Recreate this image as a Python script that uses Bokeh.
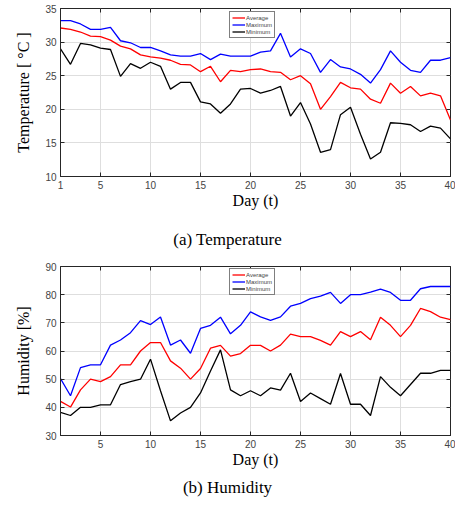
from bokeh.plotting import figure
from bokeh.layouts import column
from bokeh.models import (Range1d, FixedTicker, LinearAxis, Legend, LegendItem, Div,
                          CustomJSTickFormatter)
from bokeh.embed import file_html
from bokeh.resources import INLINE

days = list(range(1, 41))

temp_avg = [32.1, 31.9, 31.5, 30.9, 30.8, 30.3, 29.4, 29.0, 28.1, 27.8,
            27.6, 27.3, 26.7, 26.6, 25.6, 26.4, 24.1, 25.8, 25.6, 25.9,
            26.0, 25.6, 25.5, 24.4, 25.0, 23.8, 20.0, 21.9, 24.0, 23.2,
            23.0, 21.5, 20.9, 23.9, 22.4, 23.4, 22.0, 22.4, 22.0, 18.4]
temp_max = [33.2, 33.2, 32.7, 31.9, 31.9, 32.2, 30.2, 29.9, 29.2, 29.2,
            28.7, 28.1, 27.9, 27.9, 28.3, 27.4, 28.2, 27.9, 27.9, 27.9,
            28.5, 28.7, 31.3, 27.8, 29.0, 28.3, 25.5, 27.4, 26.3, 26.0,
            25.2, 23.9, 25.9, 28.7, 27.0, 25.8, 25.5, 27.3, 27.3, 27.7]
temp_min = [29.0, 26.7, 29.8, 29.6, 29.1, 28.9, 24.9, 26.8, 26.1, 27.0,
            26.4, 23.0, 24.0, 24.0, 21.1, 20.8, 19.4, 20.8, 23.0, 23.1,
            22.4, 22.8, 23.4, 19.0, 21.0, 17.8, 13.6, 14.0, 19.2, 20.3,
            16.3, 12.6, 13.6, 18.0, 17.9, 17.7, 16.7, 17.5, 17.2, 15.6]

hum_avg = [42.1, 40.1, 46.2, 50.0, 49.1, 50.9, 55.1, 55.1, 60.0, 63.0,
           63.0, 56.5, 53.9, 50.0, 53.8, 61.0, 62.0, 58.2, 59.1, 62.0,
           62.0, 60.0, 62.1, 66.0, 65.1, 65.1, 63.8, 62.1, 66.9, 65.1,
           66.9, 64.0, 72.0, 69.1, 65.1, 69.1, 75.1, 74.0, 72.0, 71.1]
hum_max = [50.2, 44.1, 54.1, 55.1, 55.1, 62.1, 63.9, 66.5, 70.8, 69.4,
           72.1, 62.1, 63.9, 59.2, 68.0, 69.1, 72.0, 66.1, 69.1, 73.9,
           72.1, 70.9, 72.1, 75.9, 76.9, 78.6, 79.5, 80.8, 76.9, 80.0,
           80.0, 80.9, 82.0, 80.8, 78.0, 78.0, 82.1, 82.9, 82.9, 82.9]
hum_min = [38.2, 37.1, 40.0, 40.0, 40.9, 40.9, 48.1, 49.1, 50.0, 57.1,
           45.9, 35.2, 38.0, 40.0, 45.1, 52.9, 60.4, 46.2, 44.1, 45.9,
           44.1, 46.9, 46.1, 52.1, 42.1, 45.1, 43.1, 41.1, 52.0, 41.1,
           41.1, 37.1, 50.9, 47.1, 44.1, 48.1, 52.1, 52.1, 53.1, 53.1]

temp_xticks = [1, 5, 10, 15, 20, 25, 30, 35, 40]
hum_xticks = [5, 10, 15, 20, 25, 30, 35, 40]
temp_yticks = [10, 15, 20, 25, 30, 35]
hum_yticks = [30, 40, 50, 60, 70, 80, 90]

series_names = ["Average", "Maximum", "Minimum"]
series_colors = ["#ff0000", "#0000ff", "#000000"]

TICK_FONT = "Liberation Sans"
SERIF = "Liberation Serif"
AXIS_COL = "#262626"
W = 455


def style_axis(ax, ticks, show_labels=True):
    ax.ticker = FixedTicker(ticks=ticks)
    ax.major_tick_in = 4
    ax.major_tick_out = 0
    ax.minor_tick_line_color = None
    ax.axis_line_color = AXIS_COL
    ax.major_tick_line_color = AXIS_COL
    ax.major_label_text_font = TICK_FONT
    ax.major_label_text_color = "#444444"
    ax.major_label_text_font_size = "10px"
    if show_labels:
        ax.major_label_standoff = 4
    else:
        ax.formatter = CustomJSTickFormatter(code="return ''")
        ax.major_label_standoff = 0


def make_fig(ys, xticks, yticks, yr, ylabel, frame_h, bottom, leg_top_gap):
    top_border = 8
    p = figure(width=W, height=top_border + frame_h + bottom,
               output_backend="svg", toolbar_location=None,
               x_range=Range1d(1, 40), y_range=Range1d(*yr),
               min_border_left=60, min_border_right=5, min_border_top=top_border,
               min_border_bottom=bottom)
    p.background_fill_color = "white"
    p.border_fill_color = "white"
    p.outline_line_color = AXIS_COL
    p.outline_line_width = 1
    p.grid.grid_line_color = "#dedede"
    p.grid.grid_line_width = 1
    p.xgrid.ticker = FixedTicker(ticks=xticks)
    p.ygrid.ticker = FixedTicker(ticks=yticks)

    style_axis(p.xaxis[0], xticks)
    style_axis(p.yaxis[0], yticks)
    p.xaxis.axis_label = "Day (t)"
    p.yaxis.axis_label = ylabel
    for ax in (p.xaxis[0], p.yaxis[0]):
        ax.axis_label_text_font = SERIF
        ax.axis_label_text_font_style = "normal"
        ax.axis_label_text_font_size = "16px"
        ax.axis_label_text_color = "#000000"
    p.xaxis.axis_label_standoff = 0
    p.yaxis.axis_label_standoff = 10

    top = LinearAxis()
    style_axis(top, xticks, show_labels=False)
    top.axis_line_color = None
    p.add_layout(top, "above")
    right = LinearAxis()
    style_axis(right, yticks, show_labels=False)
    right.axis_line_color = None
    p.add_layout(right, "right")

    items = []
    for name, col, y in zip(series_names, series_colors, ys):
        r = p.line(days, y, line_color=col, line_width=1.3)
        items.append(LegendItem(label=name, renderers=[r]))
    leg_h = 27
    leg = Legend(items=items, location=(169, frame_h - leg_top_gap - leg_h))
    leg.label_text_font = TICK_FONT
    leg.label_text_font_size = "6px"
    leg.label_height = 7
    leg.label_standoff = 1
    leg.glyph_width = 13
    leg.glyph_height = 7
    leg.spacing = 0
    leg.padding = 2
    leg.margin = 0
    leg.border_line_color = "#000000"
    leg.border_line_width = 1
    leg.background_fill_alpha = 1
    p.add_layout(leg, "center")
    return p


p1 = make_fig([temp_avg, temp_max, temp_min], temp_xticks, temp_yticks, (10, 35),
              "Temperature [ °C ]", 170, 33, 5)
p2 = make_fig([hum_avg, hum_max, hum_min], hum_xticks, hum_yticks, (30, 90),
              "Humidity [%]", 171, 33, 4)

cap_style = ("font-family: 'Liberation Serif'; font-size: 17px; line-height: 20px; "
             "color: #000; text-align: center; width: 440px; padding-left: 15px; margin: 0;")
d1 = Div(text=f'<div style="{cap_style} padding-top: 19px;">(a) Temperature</div>',
         width=W, height=47, margin=0)
d2 = Div(text=f'<div style="{cap_style} padding-top: 8px;">(b) Humidity</div>',
         width=W, height=30, margin=0)

layout = column(p1, d1, p2, d2, spacing=0)
open("out.html", "w").write(file_html(layout, INLINE))
